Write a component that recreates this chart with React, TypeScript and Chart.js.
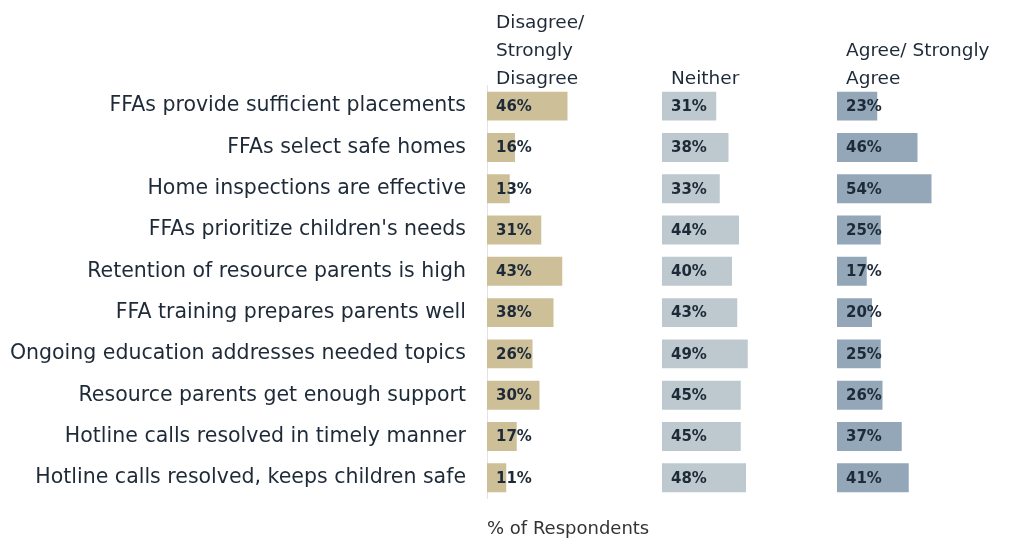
import React, { useEffect, useRef } from "react";
import { Chart, registerables } from "chart.js";

Chart.register(...registerables);

const categories = [
  "FFAs provide sufficient placements",
  "FFAs select safe homes",
  "Home inspections are effective",
  "FFAs prioritize children's needs",
  "Retention of resource parents is high",
  "FFA training prepares parents well",
  "Ongoing education addresses needed topics",
  "Resource parents get enough support",
  "Hotline calls resolved in timely manner",
  "Hotline calls resolved, keeps children safe",
];

const disagree = [46, 16, 13, 31, 43, 38, 26, 30, 17, 11];
const neither = [31, 38, 33, 44, 40, 43, 49, 45, 45, 48];
const agree = [23, 46, 54, 25, 17, 20, 25, 26, 37, 41];

const headers = [
  ["Disagree/", "Strongly", "Disagree"],
  ["Neither"],
  ["Agree/ Strongly", "Agree"],
];

const axisTitle = "% of Respondents";

const FONT = "'DejaVu Sans', sans-serif";
const TEXT = "#1e2a38";

const headerPlugin = {
  id: "headers",
  afterDraw(chart: any) {
    const ctx = chart.ctx;
    const ids = ["x1", "x2", "x3"];
    ctx.save();
    ctx.font = `400 18.5px ${FONT}`;
    ctx.fillStyle = TEXT;
    ctx.textAlign = "left";
    ctx.textBaseline = "middle";
    ids.forEach((id, k) => {
      const sc = chart.scales[id];
      const lines = headers[k];
      lines.forEach((ln, i) => {
        const y = chart.chartArea.top - 6 - (lines.length - 1 - i) * 28;
        ctx.fillText(ln, sc.left + 9, y);
      });
    });
    ctx.restore();
  },
};

const valueLabels = {
  id: "valueLabels",
  afterDatasetsDraw(chart: any) {
    const ctx = chart.ctx;
    ctx.save();
    ctx.font = `700 15px ${FONT}`;
    ctx.fillStyle = TEXT;
    ctx.textAlign = "left";
    ctx.textBaseline = "middle";
    chart.data.datasets.forEach((ds: any, di: number) => {
      const meta = chart.getDatasetMeta(di);
      meta.data.forEach((bar: any, i: number) => {
        const base = Math.min(bar.base, bar.x);
        ctx.fillText(`${ds.data[i]}%`, base + 9, bar.y + 1);
      });
    });
    ctx.restore();
  },
};

export default function App() {
  const ref = useRef<HTMLCanvasElement | null>(null);
  useEffect(() => {
    if (!ref.current) return;
    const xAxis = (title: boolean) => ({
      type: "linear" as const,
      position: "bottom" as const,
      stack: "cols",
      stackWeight: 1,
      min: 0,
      max: 100,
      grid: { display: false, drawTicks: false },
      border: { display: false },
      ticks: { display: false },
      title: {
        display: title,
        text: axisTitle,
        align: "start" as const,
        color: "#333",
        font: { family: FONT, size: 18, weight: 400 as any },
        padding: { top: 20, bottom: 4 },
      },
    });
    const chart = new Chart(ref.current, {
      type: "bar",
      data: {
        labels: categories,
        datasets: [
          { label: "Disagree/ Strongly Disagree", data: disagree, backgroundColor: "#cdbf98", xAxisID: "x1" },
          { label: "Neither", data: neither, backgroundColor: "#bdc9cf", xAxisID: "x2" },
          { label: "Agree/ Strongly Agree", data: agree, backgroundColor: "#93a7b8", xAxisID: "x3" },
        ],
      },
      options: {
        indexAxis: "y",
        animation: false,
        responsive: true,
        maintainAspectRatio: false,
        layout: { padding: { top: 77.5, right: 0, bottom: 0, left: 0 } },
        datasets: { bar: { categoryPercentage: 1, barPercentage: 0.7, grouped: false } },
        plugins: { legend: { display: false }, tooltip: { enabled: false }, title: { display: false } },
        scales: {
          x1: xAxis(true),
          x2: xAxis(false),
          x3: xAxis(false),
          y: {
            type: "category",
            position: "left",
            grid: { display: false, drawTicks: false },
            border: { display: true, color: "#e3e3e3", width: 1 },
            ticks: { color: TEXT, padding: 21, font: { family: FONT, size: 20.5, weight: 400 as any } },
            afterFit(scale: any) {
              scale.width = 479;
            },
          },
        },
      } as any,
      plugins: [headerPlugin, valueLabels],
    });
    return () => chart.destroy();
  }, []);
  return (
    <div style={{ width: 1004, height: 536, position: "relative" }}>
      <canvas ref={ref} />
    </div>
  );
}
